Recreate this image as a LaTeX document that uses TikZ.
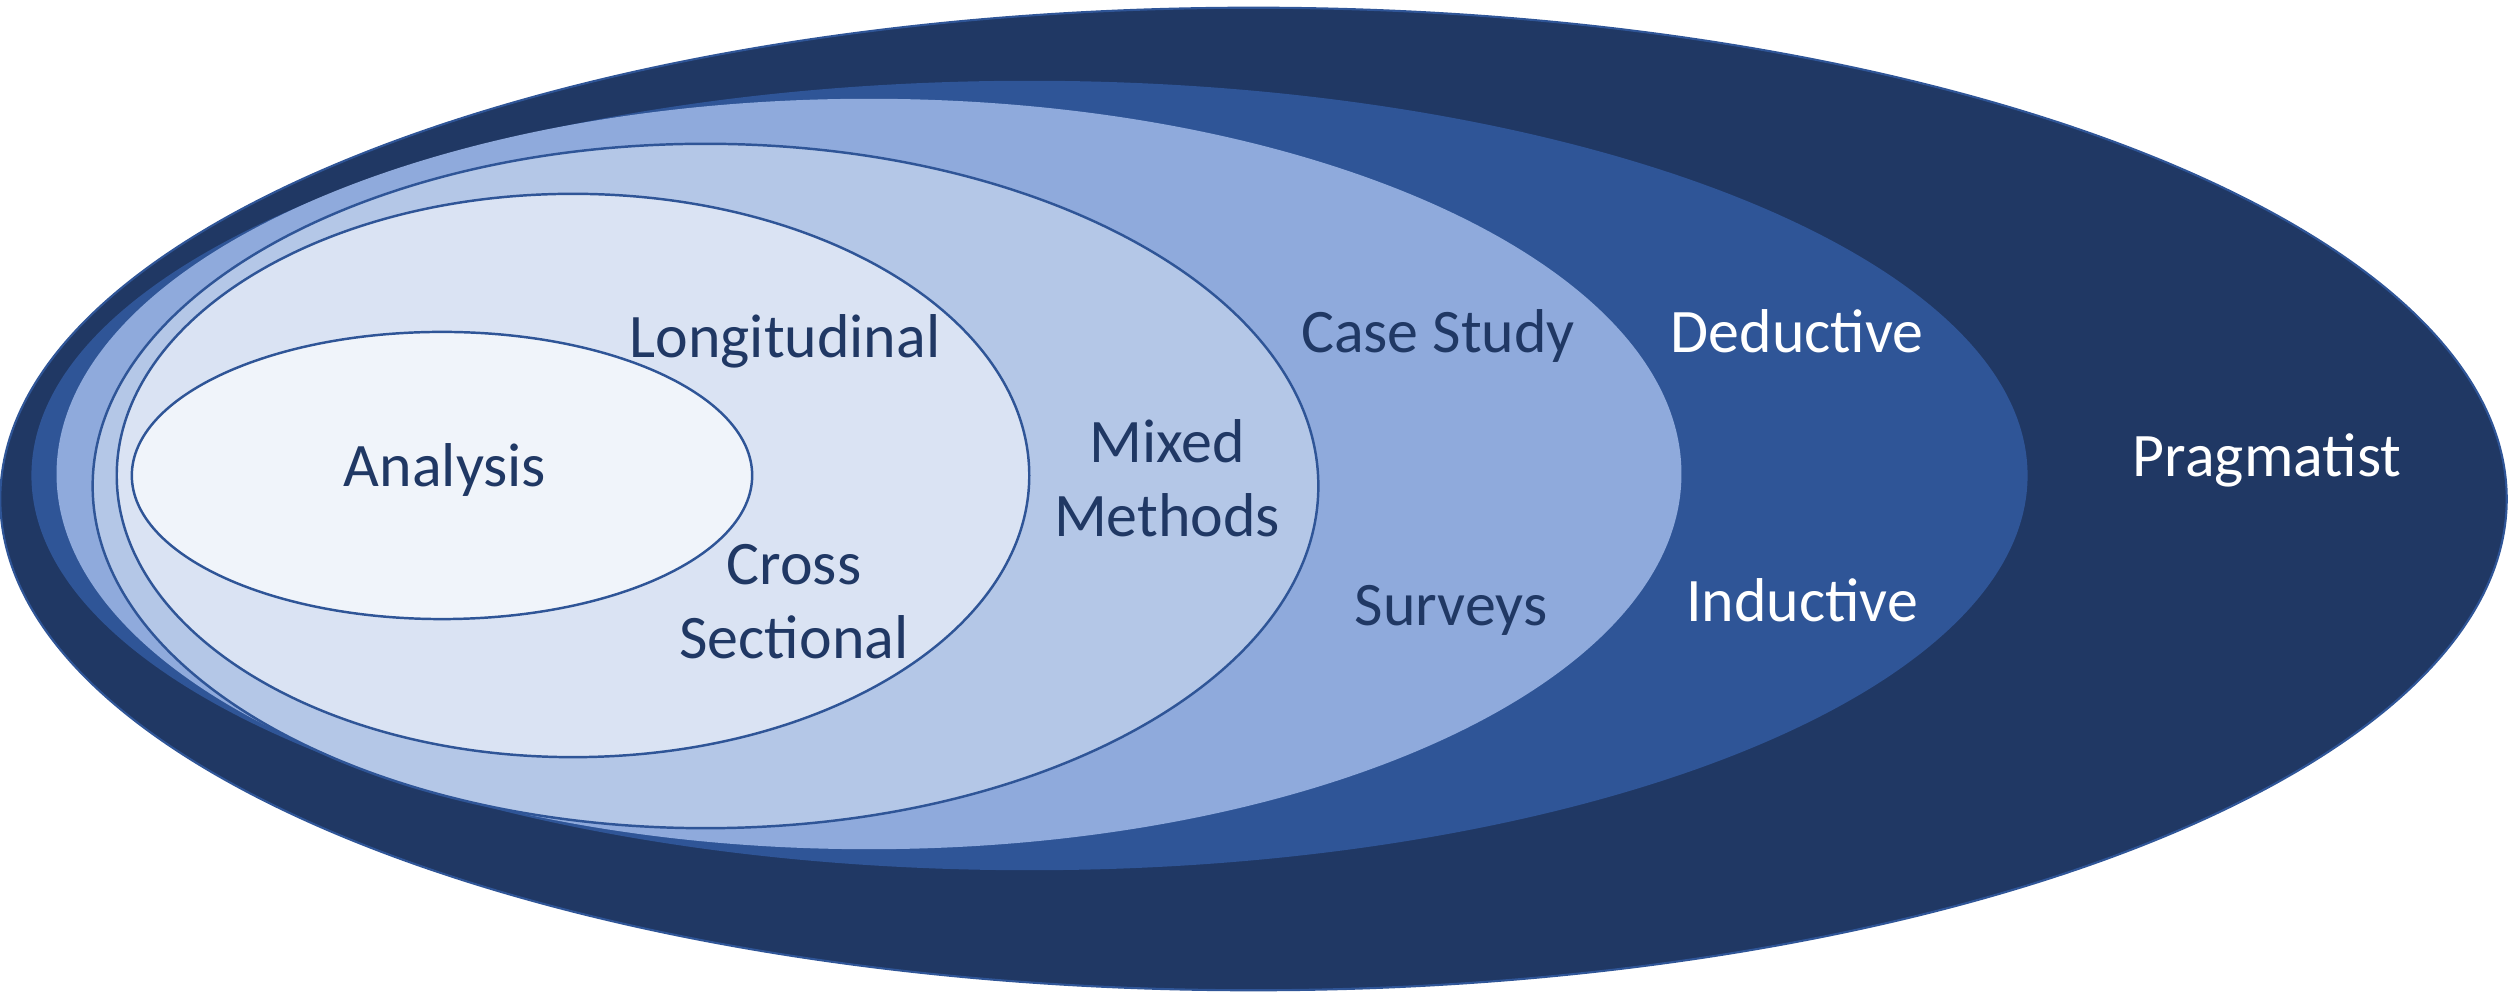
\documentclass[tikz,border=0pt]{standalone}
\usepackage{fontspec}
\setmainfont{Carlito}
\definecolor{navy}{HTML}{203864}
\definecolor{royal}{HTML}{2F5597}
\definecolor{cornflower}{HTML}{8FAADC}
\definecolor{powder}{HTML}{B4C7E7}
\definecolor{mist}{HTML}{DAE3F3}
\definecolor{frost}{HTML}{F0F4FA}
\begin{document}
\begin{tikzpicture}[x=0.01cm,y=-0.01cm,
  ring/.style={line width=0.7pt,draw=royal},
  lbl/.style={anchor=base,inner sep=0pt,font=\fontsize{17.6pt}{21.3pt}\selectfont,align=center},
  darklbl/.style={lbl,text=navy},
  lightlbl/.style={lbl,text=white}]
\useasboundingbox (0,0) rectangle (2511,995);
% nested layers, outermost first
\filldraw[fill=navy,draw=royal,line width=0.6pt] (1253.5,499) ellipse [x radius=12.525cm,y radius=4.91cm];
\fill[royal] (1029.5,475.5) ellipse [x radius=9.975cm,y radius=3.945cm];
\fill[cornflower] (869,474) ellipse [x radius=8.12cm,y radius=3.75cm];
\filldraw[ring,fill=powder] (705.5,486) ellipse [x radius=6.125cm,y radius=3.42cm];
\filldraw[ring,fill=mist] (573,475.5) ellipse [x radius=4.56cm,y radius=2.815cm];
\filldraw[ring,fill=frost] (442,475.5) ellipse [x radius=3.10cm,y radius=1.435cm];
% labels (two-line labels are anchored at the baseline of their last line)
\node[darklbl] (analysis) at (445,487) {Analysis};
\node[darklbl] (longi) at (785,358) {Longitudinal};
\node[darklbl] (cross) at (794,659) {Cross\\Sectional};
\node[darklbl] (mixed) at (1167,537) {Mixed\\Methods};
\node[darklbl] (case) at (1438,353) {Case Study};
\node[darklbl] (surveys) at (1451,626) {Surveys};
\node[lightlbl] (deductive) at (1797,353) {Deductive};
\node[lightlbl] (inductive) at (1802,622) {Inductive};
\node[lightlbl] (pragmatist) at (2267,477) {Pragmatist};
\end{tikzpicture}
\end{document}
